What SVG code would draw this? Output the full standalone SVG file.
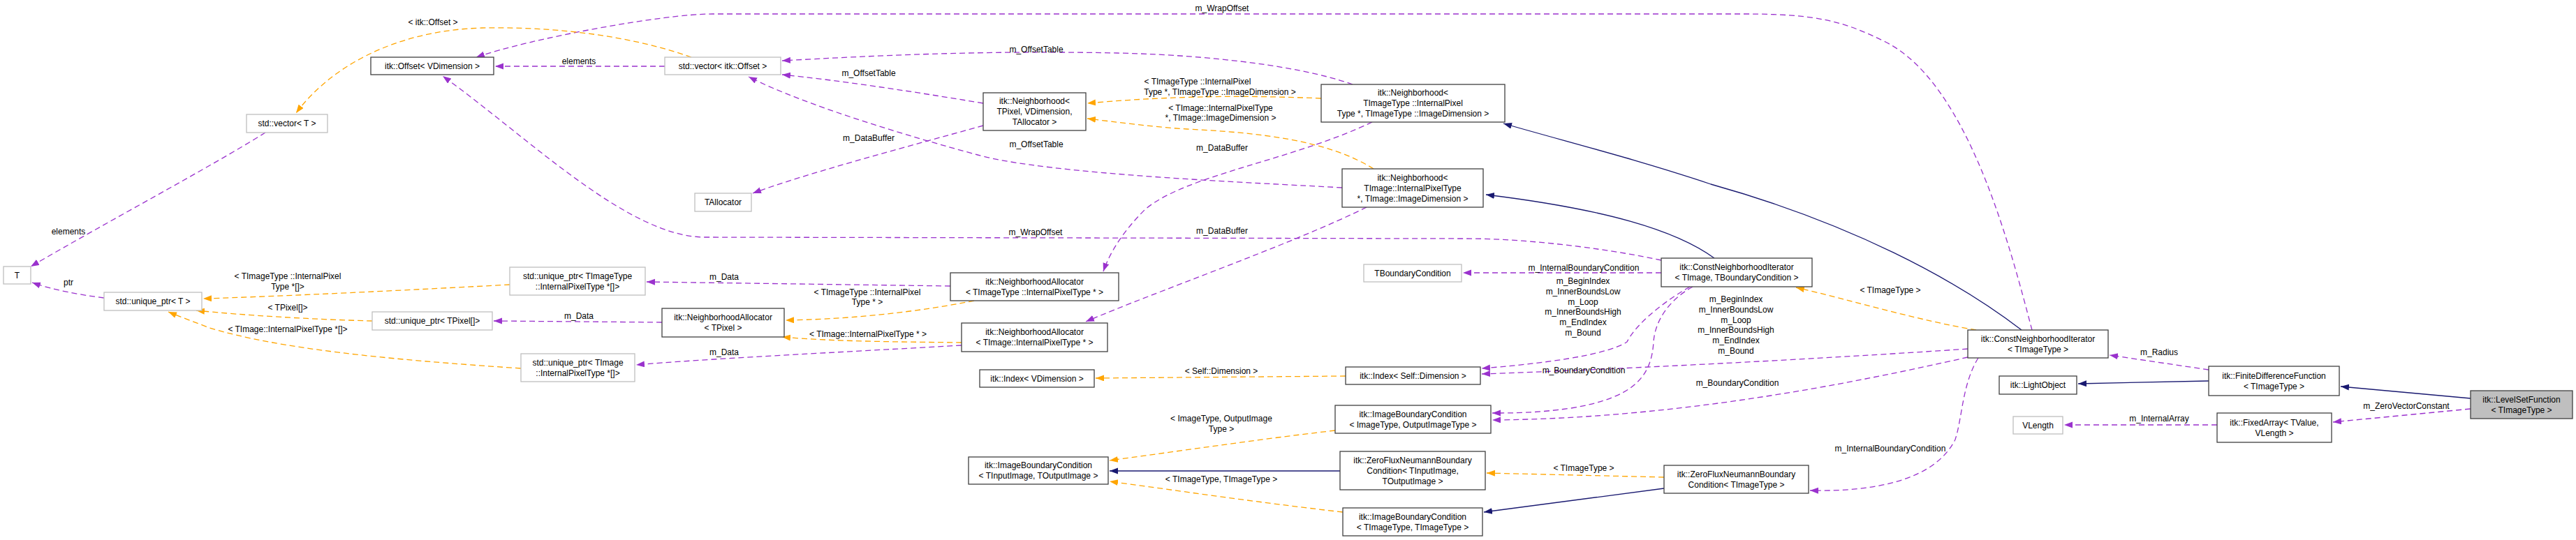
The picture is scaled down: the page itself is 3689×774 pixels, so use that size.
<svg xmlns="http://www.w3.org/2000/svg" width="3689" height="774" viewBox="0 0 3689 774">
<style>
text{font-family:"Liberation Sans",Arial,sans-serif;font-size:12px;fill:#000;text-anchor:middle}
.n rect{fill:#fff;stroke:#404040;stroke-width:1.3}
.g rect{fill:#fff;stroke:#bfbfbf;stroke-width:1.3}
.u{fill:none;stroke:#9a32cd;stroke-width:1.3;stroke-dasharray:8,5;marker-end:url(#mp)}
.o{fill:none;stroke:#ffa500;stroke-width:1.3;stroke-dasharray:8,5;marker-end:url(#mo)}
.i{fill:none;stroke:#191970;stroke-width:1.3;marker-end:url(#mi)}
</style>
<defs>
<marker id="mp" markerUnits="userSpaceOnUse" markerWidth="13" markerHeight="10" refX="12" refY="4.5" orient="auto"><path d="M0,0L12,4.5L0,9z" fill="#9a32cd"/></marker>
<marker id="mo" markerUnits="userSpaceOnUse" markerWidth="13" markerHeight="10" refX="12" refY="4.5" orient="auto"><path d="M0,0L12,4.5L0,9z" fill="#ffa500"/></marker>
<marker id="mi" markerUnits="userSpaceOnUse" markerWidth="13" markerHeight="10" refX="12" refY="4.5" orient="auto"><path d="M0,0L12,4.5L0,9z" fill="#191970"/></marker>
</defs>
<rect width="3689" height="774" fill="#fff"/>
<g id="edges">
<path class="u" d="M380,190 C300,240 150,320 44,382"/>
<path class="u" d="M149,427 C110,422 75,415 46,405"/>
<path class="u" d="M952,95 L709,95"/>
<path class="u" d="M2910,473 C2880,360 2820,120 2700,60 C2640,30 2600,20 2500,20 L1020,20 C950,20 760,55 682,82"/>
<path class="u" d="M2379,373 C2320,360 2200,342 2100,342 L1010,340 C900,340 760,200 634,109"/>
<path class="u" d="M1937,121 C1850,90 1700,78 1600,76 C1400,72 1250,80 1120,87"/>
<path class="u" d="M1408,148 C1300,130 1200,115 1120,107"/>
<path class="u" d="M1922,269 C1800,262 1500,250 1400,222 C1300,195 1150,150 1072,110"/>
<path class="u" d="M1408,180 C1300,210 1150,250 1078,277"/>
<path class="u" d="M1965,175 C1850,230 1700,250 1640,300 C1610,330 1590,360 1580,389"/>
<path class="u" d="M1957,297 C1850,350 1650,420 1555,461"/>
<path class="u" d="M1361,410 L926,404"/>
<path class="u" d="M948,462 L707,460"/>
<path class="u" d="M1377,495 C1200,505 1000,515 911,523"/>
<path class="u" d="M2379,391 L2095,391"/>
<path class="u" d="M2420,411 C2370,440 2340,470 2330,490 C2300,510 2200,522 2122,528"/>
<path class="u" d="M2818,500 C2600,515 2300,530 2122,536"/>
<path class="u" d="M2424,411 C2390,430 2370,460 2368,490 C2365,540 2340,570 2250,585 C2200,592 2170,592 2137,592"/>
<path class="u" d="M2818,512 C2650,550 2400,600 2137,602"/>
<path class="u" d="M2833,513 C2810,550 2810,600 2800,630 C2770,690 2680,705 2592,703"/>
<path class="u" d="M3163,530 L3021,509"/>
<path class="u" d="M3175,609 L2956,609"/>
<path class="u" d="M3538,586 L3341,605"/>
<path class="o" d="M990,82 C900,50 790,38 690,40 C560,44 470,100 424,162"/>
<path class="o" d="M1892,141 C1750,135 1650,140 1557,148"/>
<path class="o" d="M1967,242 C1900,200 1800,190 1700,185 C1650,182 1600,175 1557,170"/>
<path class="o" d="M1395,431 C1300,450 1200,458 1125,459"/>
<path class="o" d="M1377,491 C1300,490 1200,490 1120,483"/>
<path class="o" d="M730,408 C600,415 400,425 291,428"/>
<path class="o" d="M533,460 C450,458 350,452 281,445"/>
<path class="o" d="M746,528 C550,515 400,500 300,470 C280,462 260,455 241,447"/>
<path class="o" d="M1927,539 L1569,542"/>
<path class="o" d="M1912,617 C1800,630 1700,645 1589,660"/>
<path class="o" d="M1923,734 C1800,720 1700,705 1589,690"/>
<path class="o" d="M2383,684 L2129,678"/>
<path class="o" d="M2830,473 C2750,460 2650,430 2572,412"/>
<path class="i" d="M2895,473 C2800,400 2650,320 2450,264 C2350,230 2250,205 2153,177"/>
<path class="i" d="M2455,370 C2400,330 2300,300 2128,279"/>
<path class="i" d="M1919,675 L1589,675"/>
<path class="i" d="M2383,700 L2125,734"/>
<path class="i" d="M3163,546 L2976,550"/>
<path class="i" d="M3538,571 L3352,554"/>
<text x="98" y="336">elements</text>
<text x="98" y="409">ptr</text>
<text x="829" y="92">elements</text>
<text x="1750" y="16">m_WrapOffset</text>
<text x="1483" y="337">m_WrapOffset</text>
<text x="1484" y="75">m_OffsetTable</text>
<text x="1244" y="109">m_OffsetTable</text>
<text x="1484" y="211">m_OffsetTable</text>
<text x="1244" y="202">m_DataBuffer</text>
<text x="1750" y="216">m_DataBuffer</text>
<text x="1750" y="335">m_DataBuffer</text>
<text x="1037" y="401">m_Data</text>
<text x="829" y="457">m_Data</text>
<text x="1037" y="509">m_Data</text>
<text x="2268" y="388">m_InternalBoundaryCondition</text>
<text x="2267" y="407">m_BeginIndex</text><text x="2267" y="422">m_InnerBoundsLow</text><text x="2267" y="437">m_Loop</text><text x="2267" y="451">m_InnerBoundsHigh</text><text x="2267" y="466">m_EndIndex</text><text x="2267" y="481">m_Bound</text>
<text x="2486" y="433">m_BeginIndex</text><text x="2486" y="448">m_InnerBoundsLow</text><text x="2486" y="463">m_Loop</text><text x="2486" y="477">m_InnerBoundsHigh</text><text x="2486" y="492">m_EndIndex</text><text x="2486" y="507">m_Bound</text>
<text x="2268" y="535">m_BoundaryCondition</text>
<text x="2488" y="553">m_BoundaryCondition</text>
<text x="2707" y="647">m_InternalBoundaryCondition</text>
<text x="3092" y="509">m_Radius</text>
<text x="3092" y="604">m_InternalArray</text>
<text x="3446" y="586">m_ZeroVectorConstant</text>
<text x="620" y="36">&lt; itk::Offset &gt;</text>
<text x="1715" y="121">&lt; TImageType ::InternalPixel</text><text x="1747" y="136">Type *, TImageType ::ImageDimension &gt;</text>
<text x="1748" y="159">&lt; TImage::InternalPixelType</text><text x="1748" y="173">*, TImage::ImageDimension &gt;</text>
<text x="1242" y="423">&lt; TImageType ::InternalPixel</text><text x="1242" y="437">Type * &gt;</text>
<text x="1243" y="483">&lt; TImage::InternalPixelType * &gt;</text>
<text x="412" y="400">&lt; TImageType ::InternalPixel</text><text x="412" y="415">Type *[]&gt;</text>
<text x="412" y="445">&lt; TPixel[]&gt;</text>
<text x="412" y="476">&lt; TImage::InternalPixelType *[]&gt;</text>
<text x="1749" y="536">&lt; Self::Dimension &gt;</text>
<text x="1749" y="604">&lt; ImageType, OutputImage</text><text x="1749" y="619">Type &gt;</text>
<text x="1749" y="691">&lt; TImageType, TImageType &gt;</text>
<text x="2268" y="675">&lt; TImageType &gt;</text>
<text x="2707" y="420">&lt; TImageType &gt;</text>
</g>
<g id="n1" class="g"><rect x="5" y="382" width="39" height="25"/><text x="24.5" y="398.5">T</text></g>
<g id="n2" class="g"><rect x="353" y="164" width="116" height="26"/><text x="411" y="181">std::vector&lt; T &gt;</text></g>
<g id="n3" class="n"><rect x="531" y="82" width="176" height="25"/><text x="619" y="98.5">itk::Offset&lt; VDimension &gt;</text></g>
<g id="n4" class="g"><rect x="952" y="82" width="166" height="25"/><text x="1035" y="98.5">std::vector&lt; itk::Offset &gt;</text></g>
<g id="n5" class="g"><rect x="995" y="277" width="81" height="26"/><text x="1035.5" y="294">TAllocator</text></g>
<g id="n6" class="g"><rect x="149" y="419" width="140" height="26"/><text x="219" y="436">std::unique_ptr&lt; T &gt;</text></g>
<g id="n7" class="g"><rect x="730" y="383" width="194" height="40"/><text x="827" y="399.5">std::unique_ptr&lt; TImageType</text><text x="827" y="414.5">::InternalPixelType *[]&gt;</text></g>
<g id="n8" class="g"><rect x="533" y="447" width="172" height="26"/><text x="619" y="464">std::unique_ptr&lt; TPixel[]&gt;</text></g>
<g id="n9" class="n"><rect x="948" y="442" width="175" height="41"/><text x="1035.5" y="459">itk::NeighborhoodAllocator</text><text x="1035.5" y="474">&lt; TPixel &gt;</text></g>
<g id="n10" class="g"><rect x="746" y="507" width="163" height="40"/><text x="827.5" y="523.5">std::unique_ptr&lt; TImage</text><text x="827.5" y="538.5">::InternalPixelType *[]&gt;</text></g>
<g id="n11" class="n"><rect x="1408" y="133" width="147" height="54"/><text x="1481.5" y="149">itk::Neighborhood&lt;</text><text x="1481.5" y="164">TPixel, VDimension,</text><text x="1481.5" y="179">TAllocator &gt;</text></g>
<g id="n12" class="n"><rect x="1892" y="121" width="263" height="54"/><text x="2023.5" y="137">itk::Neighborhood&lt;</text><text x="2023.5" y="152">TImageType ::InternalPixel</text><text x="2023.5" y="167">Type *, TImageType ::ImageDimension &gt;</text></g>
<g id="n13" class="n"><rect x="1922" y="242" width="202" height="55"/><text x="2023" y="258.5">itk::Neighborhood&lt;</text><text x="2023" y="273.5">TImage::InternalPixelType</text><text x="2023" y="288.5">*, TImage::ImageDimension &gt;</text></g>
<g id="n14" class="n"><rect x="1361" y="391" width="241" height="40"/><text x="1481.5" y="407.5">itk::NeighborhoodAllocator</text><text x="1481.5" y="422.5">&lt; TImageType ::InternalPixelType * &gt;</text></g>
<g id="n15" class="n"><rect x="1377" y="463" width="209" height="41"/><text x="1481.5" y="480">itk::NeighborhoodAllocator</text><text x="1481.5" y="495">&lt; TImage::InternalPixelType * &gt;</text></g>
<g id="n16" class="n"><rect x="1403" y="530" width="164" height="25"/><text x="1485" y="546.5">itk::Index&lt; VDimension &gt;</text></g>
<g id="n17" class="n"><rect x="1387" y="655" width="200" height="39"/><text x="1487" y="671">itk::ImageBoundaryCondition</text><text x="1487" y="686">&lt; TInputImage, TOutputImage &gt;</text></g>
<g id="n18" class="g"><rect x="1953" y="379" width="140" height="25"/><text x="2023" y="395.5">TBoundaryCondition</text></g>
<g id="n19" class="n"><rect x="2379" y="370" width="216" height="41"/><text x="2487" y="387">itk::ConstNeighborhoodIterator</text><text x="2487" y="402">&lt; TImage, TBoundaryCondition &gt;</text></g>
<g id="n20" class="n"><rect x="1927" y="526" width="193" height="25"/><text x="2023.5" y="542.5">itk::Index&lt; Self::Dimension &gt;</text></g>
<g id="n21" class="n"><rect x="1912" y="581" width="223" height="40"/><text x="2023.5" y="597.5">itk::ImageBoundaryCondition</text><text x="2023.5" y="612.5">&lt; ImageType, OutputImageType &gt;</text></g>
<g id="n22" class="n"><rect x="1919" y="647" width="208" height="55"/><text x="2023" y="663.5">itk::ZeroFluxNeumannBoundary</text><text x="2023" y="678.5">Condition&lt; TInputImage,</text><text x="2023" y="693.5">TOutputImage &gt;</text></g>
<g id="n23" class="n"><rect x="1923" y="728" width="200" height="40"/><text x="2023" y="744.5">itk::ImageBoundaryCondition</text><text x="2023" y="759.5">&lt; TImageType, TImageType &gt;</text></g>
<g id="n24" class="n"><rect x="2383" y="667" width="207" height="40"/><text x="2486.5" y="683.5">itk::ZeroFluxNeumannBoundary</text><text x="2486.5" y="698.5">Condition&lt; TImageType &gt;</text></g>
<g id="n25" class="n"><rect x="2818" y="473" width="201" height="40"/><text x="2918.5" y="489.5">itk::ConstNeighborhoodIterator</text><text x="2918.5" y="504.5">&lt; TImageType &gt;</text></g>
<g id="n26" class="n"><rect x="2863" y="539" width="111" height="26"/><text x="2918.5" y="556">itk::LightObject</text></g>
<g id="n27" class="n"><rect x="3163" y="525" width="187" height="42"/><text x="3256.5" y="542.5">itk::FiniteDifferenceFunction</text><text x="3256.5" y="557.5">&lt; TImageType &gt;</text></g>
<g id="n28" class="n"><rect x="3175" y="592" width="164" height="42"/><text x="3257" y="609.5">itk::FixedArray&lt; TValue,</text><text x="3257" y="624.5">VLength &gt;</text></g>
<g id="n29" class="g"><rect x="2883" y="597" width="71" height="25"/><text x="2918.5" y="613.5">VLength</text></g>
<g id="n30" class="n"><rect x="3538" y="560" width="146" height="40" style="fill:#bfbfbf"/><text x="3611" y="576.5">itk::LevelSetFunction</text><text x="3611" y="591.5">&lt; TImageType &gt;</text></g>
</svg>
